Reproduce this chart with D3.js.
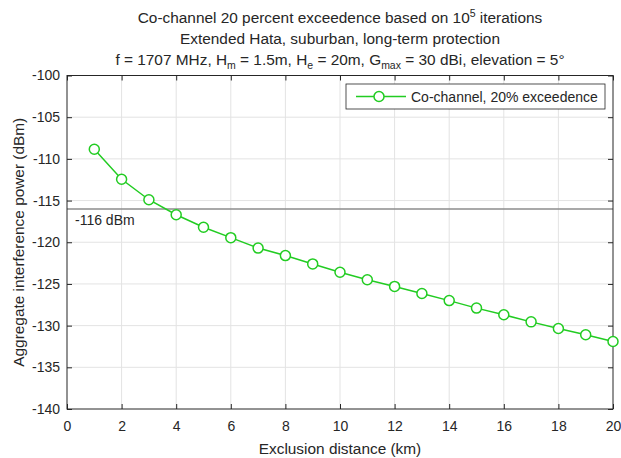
<!DOCTYPE html>
<html>
<head>
<meta charset="utf-8">
<script src="https://cdn.jsdelivr.net/npm/d3@7"></script>
<style>
  body { margin: 0; background: #fff; }
  text { font-family: "Liberation Sans", Arial, sans-serif; fill: #262626; }
</style>
</head>
<body>
<div class="chart"></div>
<script>
// data
var distanceKm = [1, 2, 3, 4, 5, 6, 7, 8, 9, 10, 11, 12, 13, 14, 15, 16, 17, 18, 19, 20];
var powerDbm = [-108.85, -112.45, -114.9, -116.7, -118.2, -119.45, -120.7, -121.6, -122.6, -123.6,
  -124.5, -125.3, -126.15, -127.0, -127.9, -128.7, -129.55, -130.35, -131.1, -131.9];
var xTicks = [0, 2, 4, 6, 8, 10, 12, 14, 16, 18, 20];
var yTicks = [-100, -105, -110, -115, -120, -125, -130, -135, -140];
var threshold = -116;

var svgWidth = 621, svgHeight = 458;
var margin = { top: 75.5, right: 8, bottom: 49, left: 67 };
var width = svgWidth - margin.left - margin.right;
var height = svgHeight - margin.top - margin.bottom;
var green = "#22cc22";
var labelSize = "15.4px", tickSize = "14px";

var svg = d3.select(".chart").append("svg")
  .attr("width", svgWidth)
  .attr("height", svgHeight);

var chartGroup = svg.append("g")
  .attr("transform", `translate(${margin.left}, ${margin.top})`);

var x = d3.scaleLinear().domain([0, 20]).range([0, width]);
var y = d3.scaleLinear().domain([-140, -100]).range([height, 0]);

// grid
chartGroup.append("g").selectAll("line")
  .data(xTicks.slice(1, -1)).enter().append("line")
  .attr("x1", d => x(d)).attr("x2", d => x(d))
  .attr("y1", 0).attr("y2", height)
  .attr("stroke", "#e3e3e3");
chartGroup.append("g").selectAll("line")
  .data(yTicks.slice(1, -1)).enter().append("line")
  .attr("y1", d => y(d)).attr("y2", d => y(d))
  .attr("x1", 0).attr("x2", width)
  .attr("stroke", "#e3e3e3");

// threshold line
chartGroup.append("line")
  .attr("x1", 0).attr("x2", width)
  .attr("y1", y(threshold)).attr("y2", y(threshold))
  .attr("stroke", "#8c8c8c").attr("stroke-width", 1.5);
chartGroup.append("text")
  .attr("x", 8).attr("y", y(threshold) + 16)
  .attr("font-size", tickSize)
  .text(threshold + " dBm");

// axes (ticks inside, box on)
function styleAxis(g) {
  g.select(".domain").remove();
  g.selectAll(".tick line").attr("stroke", "#262626");
  g.selectAll(".tick text").attr("font-size", tickSize).attr("fill", "#262626")
    .style("font-family", "Liberation Sans, Arial, sans-serif");
}
chartGroup.append("g")
  .attr("transform", `translate(0, ${height})`)
  .call(d3.axisBottom(x).tickValues(xTicks).tickSize(-5).tickPadding(12).tickFormat(d => String(d)))
  .call(styleAxis);
chartGroup.append("g")
  .call(d3.axisLeft(y).tickValues(yTicks).tickSize(-5).tickPadding(7).tickFormat(d => String(d)))
  .call(styleAxis);
chartGroup.append("g")
  .call(d3.axisTop(x).tickValues(xTicks).tickSize(-5).tickFormat(""))
  .call(styleAxis);
chartGroup.append("g")
  .attr("transform", `translate(${width}, 0)`)
  .call(d3.axisRight(y).tickValues(yTicks).tickSize(-5).tickFormat(""))
  .call(styleAxis);
chartGroup.append("rect")
  .attr("width", width).attr("height", height)
  .attr("fill", "none").attr("stroke", "#262626");

// series
var line = d3.line().x(d => x(d[0])).y(d => y(d[1]));
var pts = distanceKm.map((d, i) => [d, powerDbm[i]]);
chartGroup.append("path")
  .datum(pts)
  .attr("d", line)
  .attr("fill", "none").attr("stroke", green).attr("stroke-width", 1.5);
chartGroup.selectAll("circle.pt")
  .data(pts).enter().append("circle")
  .attr("class", "pt")
  .attr("cx", d => x(d[0])).attr("cy", d => y(d[1]))
  .attr("r", 5)
  .attr("fill", "#fff").attr("stroke", green).attr("stroke-width", 1.5);

// legend
var legend = svg.append("g").attr("transform", "translate(346, 84)");
legend.append("rect")
  .attr("width", 259).attr("height", 25)
  .attr("fill", "#fff").attr("stroke", "#262626").attr("stroke-width", 0.8);
legend.append("line")
  .attr("x1", 10).attr("x2", 60).attr("y1", 12.5).attr("y2", 12.5)
  .attr("stroke", green).attr("stroke-width", 1.5);
legend.append("circle")
  .attr("cx", 33).attr("cy", 12.5).attr("r", 5)
  .attr("fill", "#fff").attr("stroke", green).attr("stroke-width", 1.5);
legend.append("text")
  .attr("x", 65).attr("y", 18)
  .attr("font-size", tickSize)
  .text("Co-channel, 20% exceedence");

// titles, centred over the axes
var cx = margin.left + width / 2;
var t1 = svg.append("text").attr("x", cx).attr("y", 23)
  .attr("text-anchor", "middle").attr("font-size", labelSize);
t1.append("tspan").text("Co-channel 20 percent exceedence based on 10");
t1.append("tspan").attr("dy", -6).attr("font-size", "10.5px").text("5");
t1.append("tspan").attr("dy", 6).text(" iterations");

svg.append("text").attr("x", cx).attr("y", 44)
  .attr("text-anchor", "middle").attr("font-size", labelSize)
  .text("Extended Hata, suburban, long-term protection");

var t3 = svg.append("text").attr("x", cx).attr("y", 65)
  .attr("text-anchor", "middle").attr("font-size", labelSize);
t3.append("tspan").text("f = 1707 MHz, H");
t3.append("tspan").attr("dy", 4).attr("font-size", "10.5px").text("m");
t3.append("tspan").attr("dy", -4).text(" = 1.5m, H");
t3.append("tspan").attr("dy", 4).attr("font-size", "10.5px").text("e");
t3.append("tspan").attr("dy", -4).text(" = 20m, G");
t3.append("tspan").attr("dy", 4).attr("font-size", "10.5px").text("max");
t3.append("tspan").attr("dy", -4).text(" = 30 dBi, elevation = 5\u00b0");

// axis labels
svg.append("text")
  .attr("x", cx).attr("y", 454)
  .attr("text-anchor", "middle").attr("font-size", labelSize)
  .text("Exclusion distance (km)");
svg.append("text")
  .attr("transform", `translate(24, ${margin.top + height / 2}) rotate(-90)`)
  .attr("text-anchor", "middle").attr("font-size", labelSize)
  .text("Aggregate interference power (dBm)");
</script>
</body>
</html>
